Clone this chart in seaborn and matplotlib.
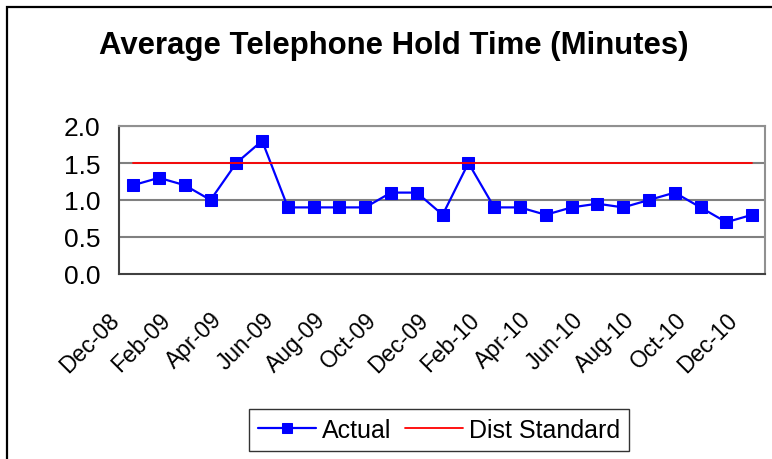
import numpy as np
import pandas as pd
import matplotlib
matplotlib.use("Agg")
import matplotlib.pyplot as plt
import matplotlib.transforms as mtransforms
import seaborn as sns
from matplotlib.patches import Rectangle

# monthly data, Dec-08 .. Dec-10
months = ["Dec-08", "Jan-09", "Feb-09", "Mar-09", "Apr-09", "May-09", "Jun-09",
          "Jul-09", "Aug-09", "Sep-09", "Oct-09", "Nov-09", "Dec-09", "Jan-10",
          "Feb-10", "Mar-10", "Apr-10", "May-10", "Jun-10", "Jul-10", "Aug-10",
          "Sep-10", "Oct-10", "Nov-10", "Dec-10"]
actual = [1.2, 1.3, 1.2, 1.0, 1.5, 1.8, 0.9, 0.9, 0.9, 0.9, 1.1, 1.1, 0.8,
          1.5, 0.9, 0.9, 0.8, 0.9, 0.95, 0.9, 1.0, 1.1, 0.9, 0.7, 0.8]
dist_standard = [1.5, 1.5, 1.5, 1.5, 1.5, 1.5, 1.5, 1.5, 1.5, 1.5, 1.5, 1.5, 1.5,
                 1.5, 1.5, 1.5, 1.5, 1.5, 1.5, 1.5, 1.5, 1.5, 1.5, 1.5, 1.5]
tick_labels = ["Dec-08", "Feb-09", "Apr-09", "Jun-09", "Aug-09", "Oct-09", "Dec-09",
               "Feb-10", "Apr-10", "Jun-10", "Aug-10", "Oct-10", "Dec-10"]
y_ticks = [0.0, 0.5, 1.0, 1.5, 2.0]

sns.set_style("white")
plt.rcParams["font.family"] = ["Liberation Sans", "DejaVu Sans"]
plt.rcParams["text.color"] = "black"
plt.rcParams["xtick.color"] = "black"
plt.rcParams["ytick.color"] = "black"

df = pd.DataFrame({"month": months, "pos": np.arange(len(months)),
                   "Actual": actual, "Dist Standard": dist_standard})

fig = plt.figure(figsize=(7.72, 4.60), dpi=100)
ax = fig.add_axes([119 / 772, 1 - 275 / 460, (765 - 119) / 772, (275 - 127) / 460])

sns.lineplot(data=df, x="pos", y="Actual", ax=ax, color="#0000FF", linewidth=1.6,
             marker="s", markersize=9, markeredgecolor="#0000FF", label="Actual")
sns.lineplot(data=df, x="pos", y="Dist Standard", ax=ax, color="#FF0000",
             linewidth=1.3, label="Dist Standard")

ax.set_xlim(-0.55, 24.5)
ax.set_ylim(0, 2.0)
ax.set_yticks(y_ticks)
ax.set_yticklabels([f"{v:.1f}" for v in y_ticks], fontsize=19)
ax.set_xticks(np.arange(-0.5, 24, 2))
ax.set_xticklabels(tick_labels, fontsize=16.5, rotation=45, ha="right",
                   rotation_mode="anchor", va="center")
ax.set_xlabel("")
ax.set_ylabel("")
ax.tick_params(axis="both", direction="out", length=6, width=1.2, color="#303030")
ax.tick_params(axis="y", pad=7.5)
ax.tick_params(axis="x", pad=24)

# nudge the rotated date labels a little to the left
shift = mtransforms.ScaledTranslation(-5 / 100, 0, fig.dpi_scale_trans)
for lbl in ax.get_xticklabels():
    lbl.set_transform(lbl.get_transform() + shift)

for v in y_ticks[1:]:
    ax.axhline(v, color="#808080", linewidth=1.5, zorder=0)
for s in ["top", "right"]:
    ax.spines[s].set_color("#909090")
    ax.spines[s].set_linewidth(1.5)
for s in ["left", "bottom"]:
    ax.spines[s].set_color("#404040")
    ax.spines[s].set_linewidth(1.5)

ax.legend_.remove()
handles, labels = ax.get_legend_handles_labels()
leg = fig.legend(handles, labels, loc="center", bbox_to_anchor=(439 / 772, 1 - 431 / 460),
                 ncol=2, fontsize=18, frameon=True, fancybox=False, numpoints=1,
                 handlelength=2.3, columnspacing=0.55, handletextpad=0.25,
                 borderpad=0.35, borderaxespad=0, markerscale=0.8)
leg.get_frame().set_edgecolor("black")
leg.get_frame().set_linewidth(1.0)

fig.text(394 / 772, 1 - 46 / 460, "Average Telephone Hold Time (Minutes)",
         ha="center", va="center", fontsize=22.4, fontweight="bold")

# outer chart frame (cut off at right and bottom)
fig.add_artist(Rectangle((7 / 772, -0.1), 1.2, 1 - 8 / 460 + 0.1, transform=fig.transFigure,
                         fill=False, edgecolor="black", linewidth=1.6))

fig.savefig("out.png", dpi=100)
